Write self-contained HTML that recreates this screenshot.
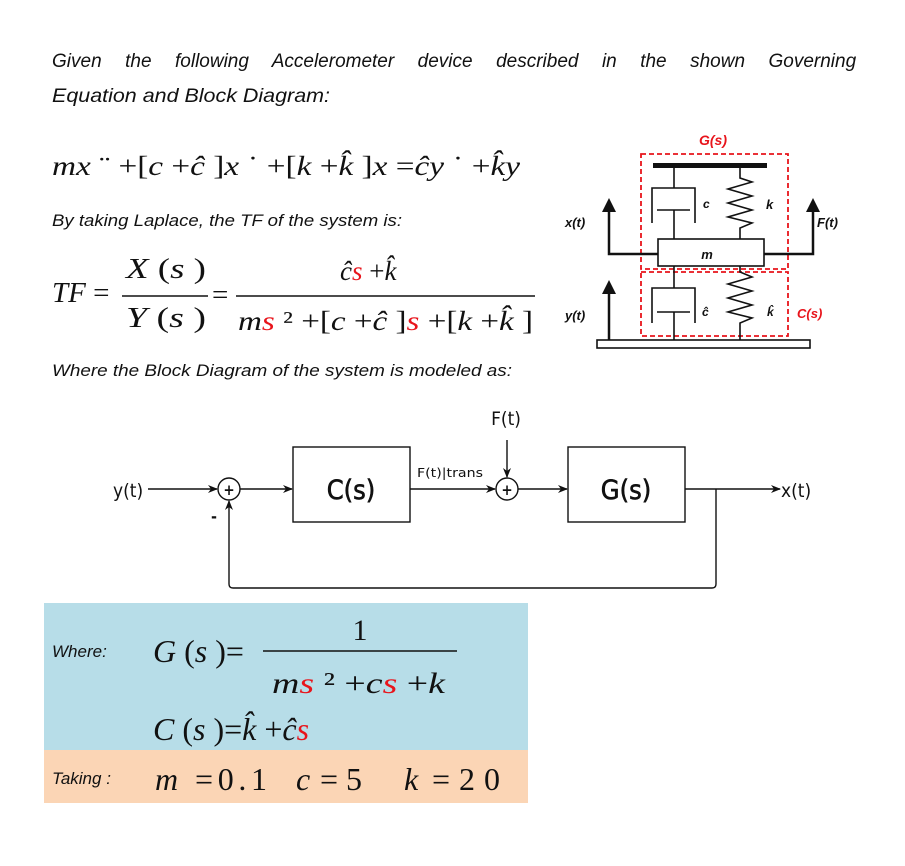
<!DOCTYPE html>
<html><head><meta charset="utf-8"><style>
html,body{margin:0;padding:0;background:#fff;}
svg{display:block;}
.it{font-family:"Liberation Sans",sans-serif;font-style:italic;fill:#111;}
.m{font-family:"Liberation Serif",serif;font-style:italic;fill:#111;}
.r{font-family:"Liberation Serif",serif;font-style:normal;fill:#111;}
.b{font-family:"DejaVu Sans Condensed","DejaVu Sans",sans-serif;fill:#111;}
.red{fill:#e8141b;}
</style></head><body>
<svg width="905" height="866" viewBox="0 0 905 866" xmlns="http://www.w3.org/2000/svg">
<defs>
<marker id="ah" markerWidth="10" markerHeight="8" refX="9" refY="4" orient="auto" markerUnits="userSpaceOnUse"><path d="M0,0 L10,4 L0,8 L3,4z" fill="#111"/></marker>
<marker id="bh" markerWidth="14" markerHeight="14" refX="7" refY="12" orient="0" markerUnits="userSpaceOnUse"><path d="M0,14 L7,0 L14,14z" fill="#111"/></marker>
</defs>
<text class="it" x="52" y="67" font-size="19" word-spacing="18.2">Given the following Accelerometer device described in the shown Governing</text>
<text class="it" x="52" y="102" font-size="19" textLength="278" lengthAdjust="spacingAndGlyphs">Equation and Block Diagram:</text>

<text class="m" x="52" y="175" font-size="27" textLength="468" lengthAdjust="spacingAndGlyphs">mx <tspan class="r">¨</tspan> <tspan class="r">+[</tspan>c <tspan class="r">+</tspan>ĉ <tspan class="r">]</tspan>x <tspan class="r">˙</tspan> <tspan class="r">+[</tspan>k <tspan class="r">+</tspan>k̂ <tspan class="r">]</tspan>x <tspan class="r">=</tspan>ĉy <tspan class="r">˙</tspan> <tspan class="r">+</tspan>k̂y</text>
<text class="it" x="52" y="226" font-size="16.5" textLength="350" lengthAdjust="spacingAndGlyphs">By taking Laplace, the TF of the system is:</text>

<text class="m" x="52" y="302" font-size="29">TF <tspan class="r">=</tspan></text>
<text class="m" x="126" y="278" font-size="28" textLength="80" lengthAdjust="spacingAndGlyphs">X <tspan class="r">(</tspan>s <tspan class="r">)</tspan></text>
<line x1="122" y1="296" x2="208" y2="296" stroke="#111" stroke-width="1.4"/>
<text class="m" x="126" y="327" font-size="28" textLength="80" lengthAdjust="spacingAndGlyphs">Y <tspan class="r">(</tspan>s <tspan class="r">)</tspan></text>
<text class="r" x="212" y="304" font-size="29">=</text>
<text class="m" x="340" y="280" font-size="27">ĉ<tspan class="red">s</tspan> <tspan class="r">+</tspan>k̂</text>
<line x1="236" y1="296" x2="535" y2="296" stroke="#111" stroke-width="1.4"/>
<text class="m" x="238" y="330" font-size="27" textLength="295" lengthAdjust="spacingAndGlyphs">m<tspan class="red">s</tspan> <tspan class="r">²</tspan> <tspan class="r">+[</tspan>c <tspan class="r">+</tspan>ĉ <tspan class="r">]</tspan><tspan class="red">s</tspan> <tspan class="r">+[</tspan>k <tspan class="r">+</tspan>k̂ <tspan class="r">]</tspan></text>
<text class="it" x="52" y="376" font-size="16.5" textLength="460" lengthAdjust="spacingAndGlyphs">Where the Block Diagram of the system is modeled as:</text>

<!-- mechanical -->
<text x="713" y="145" font-family="Liberation Sans,sans-serif" font-weight="bold" font-style="italic" font-size="14" fill="#e8141b" text-anchor="middle">G(s)</text>
<rect x="641" y="154" width="147" height="115" fill="none" stroke="#e8141b" stroke-width="1.8" stroke-dasharray="5,3"/>
<rect x="641" y="272" width="147" height="64" fill="none" stroke="#e8141b" stroke-width="1.8" stroke-dasharray="5,3"/>
<rect x="653" y="163" width="114" height="5" fill="#111"/>
<g stroke="#111" stroke-width="1.6" fill="none">
<line x1="674" y1="168" x2="674" y2="188"/>
<path d="M652,223 V188 H695 V223"/>
<line x1="657" y1="210" x2="690" y2="210"/>
<line x1="674" y1="210" x2="674" y2="239"/>
<path d="M740,168 V178 L752,182 L728,189 L752,196 L728,203 L752,210 L728,217 L752,223 L740,228 V239"/>
<rect x="658" y="239" width="106" height="27" fill="#fff"/>
<line x1="674" y1="266" x2="674" y2="288"/>
<path d="M652,323 V288 H695 V323"/>
<line x1="657" y1="312" x2="690" y2="312"/>
<line x1="674" y1="312" x2="674" y2="340"/>
<path d="M740,266 V272 L752,277 L728,284 L752,291 L728,298 L752,305 L728,312 L752,318 L740,323 V340"/>
<rect x="597" y="340" width="213" height="8"/>
</g>
<g stroke="#111" stroke-width="2.5" fill="none">
<path d="M658,254 H609 V210" marker-end="url(#bh)"/>
<path d="M764,254 H813 V210" marker-end="url(#bh)"/>
<path d="M609,340 V292" marker-end="url(#bh)"/>
</g>
<g font-family="Liberation Sans,sans-serif" font-weight="bold" font-style="italic" fill="#111">
<text x="707" y="259" font-size="13" text-anchor="middle">m</text>
<text x="703" y="208" font-size="12">c</text>
<text x="766" y="209" font-size="13">k</text>
<text x="565" y="227" font-size="13">x(t)</text>
<text x="817" y="227" font-size="13">F(t)</text>
<text x="565" y="320" font-size="13">y(t)</text>
<text x="702" y="316" font-size="12">ĉ</text>
<text x="767" y="316" font-size="12">k̂</text>
<text x="797" y="318" font-size="13" fill="#e8141b">C(s)</text>
</g>

<!-- block diagram -->
<g stroke="#111" stroke-width="1.4" fill="none">
<line x1="148" y1="489" x2="217" y2="489" marker-end="url(#ah)"/>
<circle cx="229" cy="489" r="11"/>
<line x1="240" y1="489" x2="292" y2="489" marker-end="url(#ah)"/>
<rect x="293" y="447" width="117" height="75"/>
<line x1="410" y1="489" x2="495" y2="489" marker-end="url(#ah)"/>
<circle cx="507" cy="489" r="11"/>
<line x1="507" y1="440" x2="507" y2="477" marker-end="url(#ah)"/>
<line x1="518" y1="489" x2="567" y2="489" marker-end="url(#ah)"/>
<rect x="568" y="447" width="117" height="75"/>
<line x1="685" y1="489" x2="780" y2="489" marker-end="url(#ah)"/>
<path d="M716,489 V584 Q716,588 712,588 H233 Q229,588 229,584 V501" marker-end="url(#ah)"/>
</g>
<g class="b">
<text x="229" y="495" font-size="15" font-weight="bold" text-anchor="middle">+</text>
<text x="507" y="495" font-size="15" font-weight="bold" text-anchor="middle">+</text>
<text x="113" y="497" font-size="19">y(t)</text>
<text x="351" y="499" font-size="27" stroke="#111" stroke-width="0.6" text-anchor="middle">C(s)</text>
<text x="626" y="499" font-size="27" stroke="#111" stroke-width="0.6" text-anchor="middle">G(s)</text>
<text x="417" y="477" font-size="12.5" textLength="66" lengthAdjust="spacingAndGlyphs">F(t)|trans</text>
<text x="506" y="425" font-size="19" text-anchor="middle">F(t)</text>
<text x="781" y="497" font-size="19">x(t)</text>
<text x="211" y="522" font-size="16" font-weight="bold">-</text>
</g>

<!-- parameter box -->
<rect x="44" y="603" width="484" height="147" fill="#b7dde8"/>
<rect x="44" y="750" width="484" height="53" fill="#fbd5b5"/>
<text class="it" x="52" y="657" font-size="17">Where:</text>
<text class="m" x="153" y="662" font-size="32">G <tspan class="r">(</tspan>s <tspan class="r">)=</tspan></text>
<text class="r" x="360" y="640" font-size="30" text-anchor="middle">1</text>
<line x1="263" y1="651" x2="457" y2="651" stroke="#111" stroke-width="1.4"/>
<text class="m" x="272" y="693" font-size="30" textLength="173" lengthAdjust="spacingAndGlyphs">m<tspan class="red">s</tspan> <tspan class="r">²</tspan> <tspan class="r">+</tspan>c<tspan class="red">s</tspan> <tspan class="r">+</tspan>k</text>
<text class="m" x="153" y="740" font-size="32">C <tspan class="r">(</tspan>s <tspan class="r">)=</tspan>k̂ <tspan class="r">+</tspan>ĉ<tspan class="red">s</tspan></text>
<text class="it" x="52" y="784" font-size="17">Taking :</text>
<text class="m" x="155" y="790" font-size="32">m</text>
<text class="r" x="195" y="790" font-size="32" textLength="72" lengthAdjust="spacing">=0.1</text>
<text class="m" x="296" y="790" font-size="32">c</text>
<text class="r" x="320" y="790" font-size="32" textLength="42" lengthAdjust="spacing">=5</text>
<text class="m" x="404" y="790" font-size="32">k</text>
<text class="r" x="432" y="790" font-size="32" textLength="68" lengthAdjust="spacing">=20</text>
</svg>
</body></html>
